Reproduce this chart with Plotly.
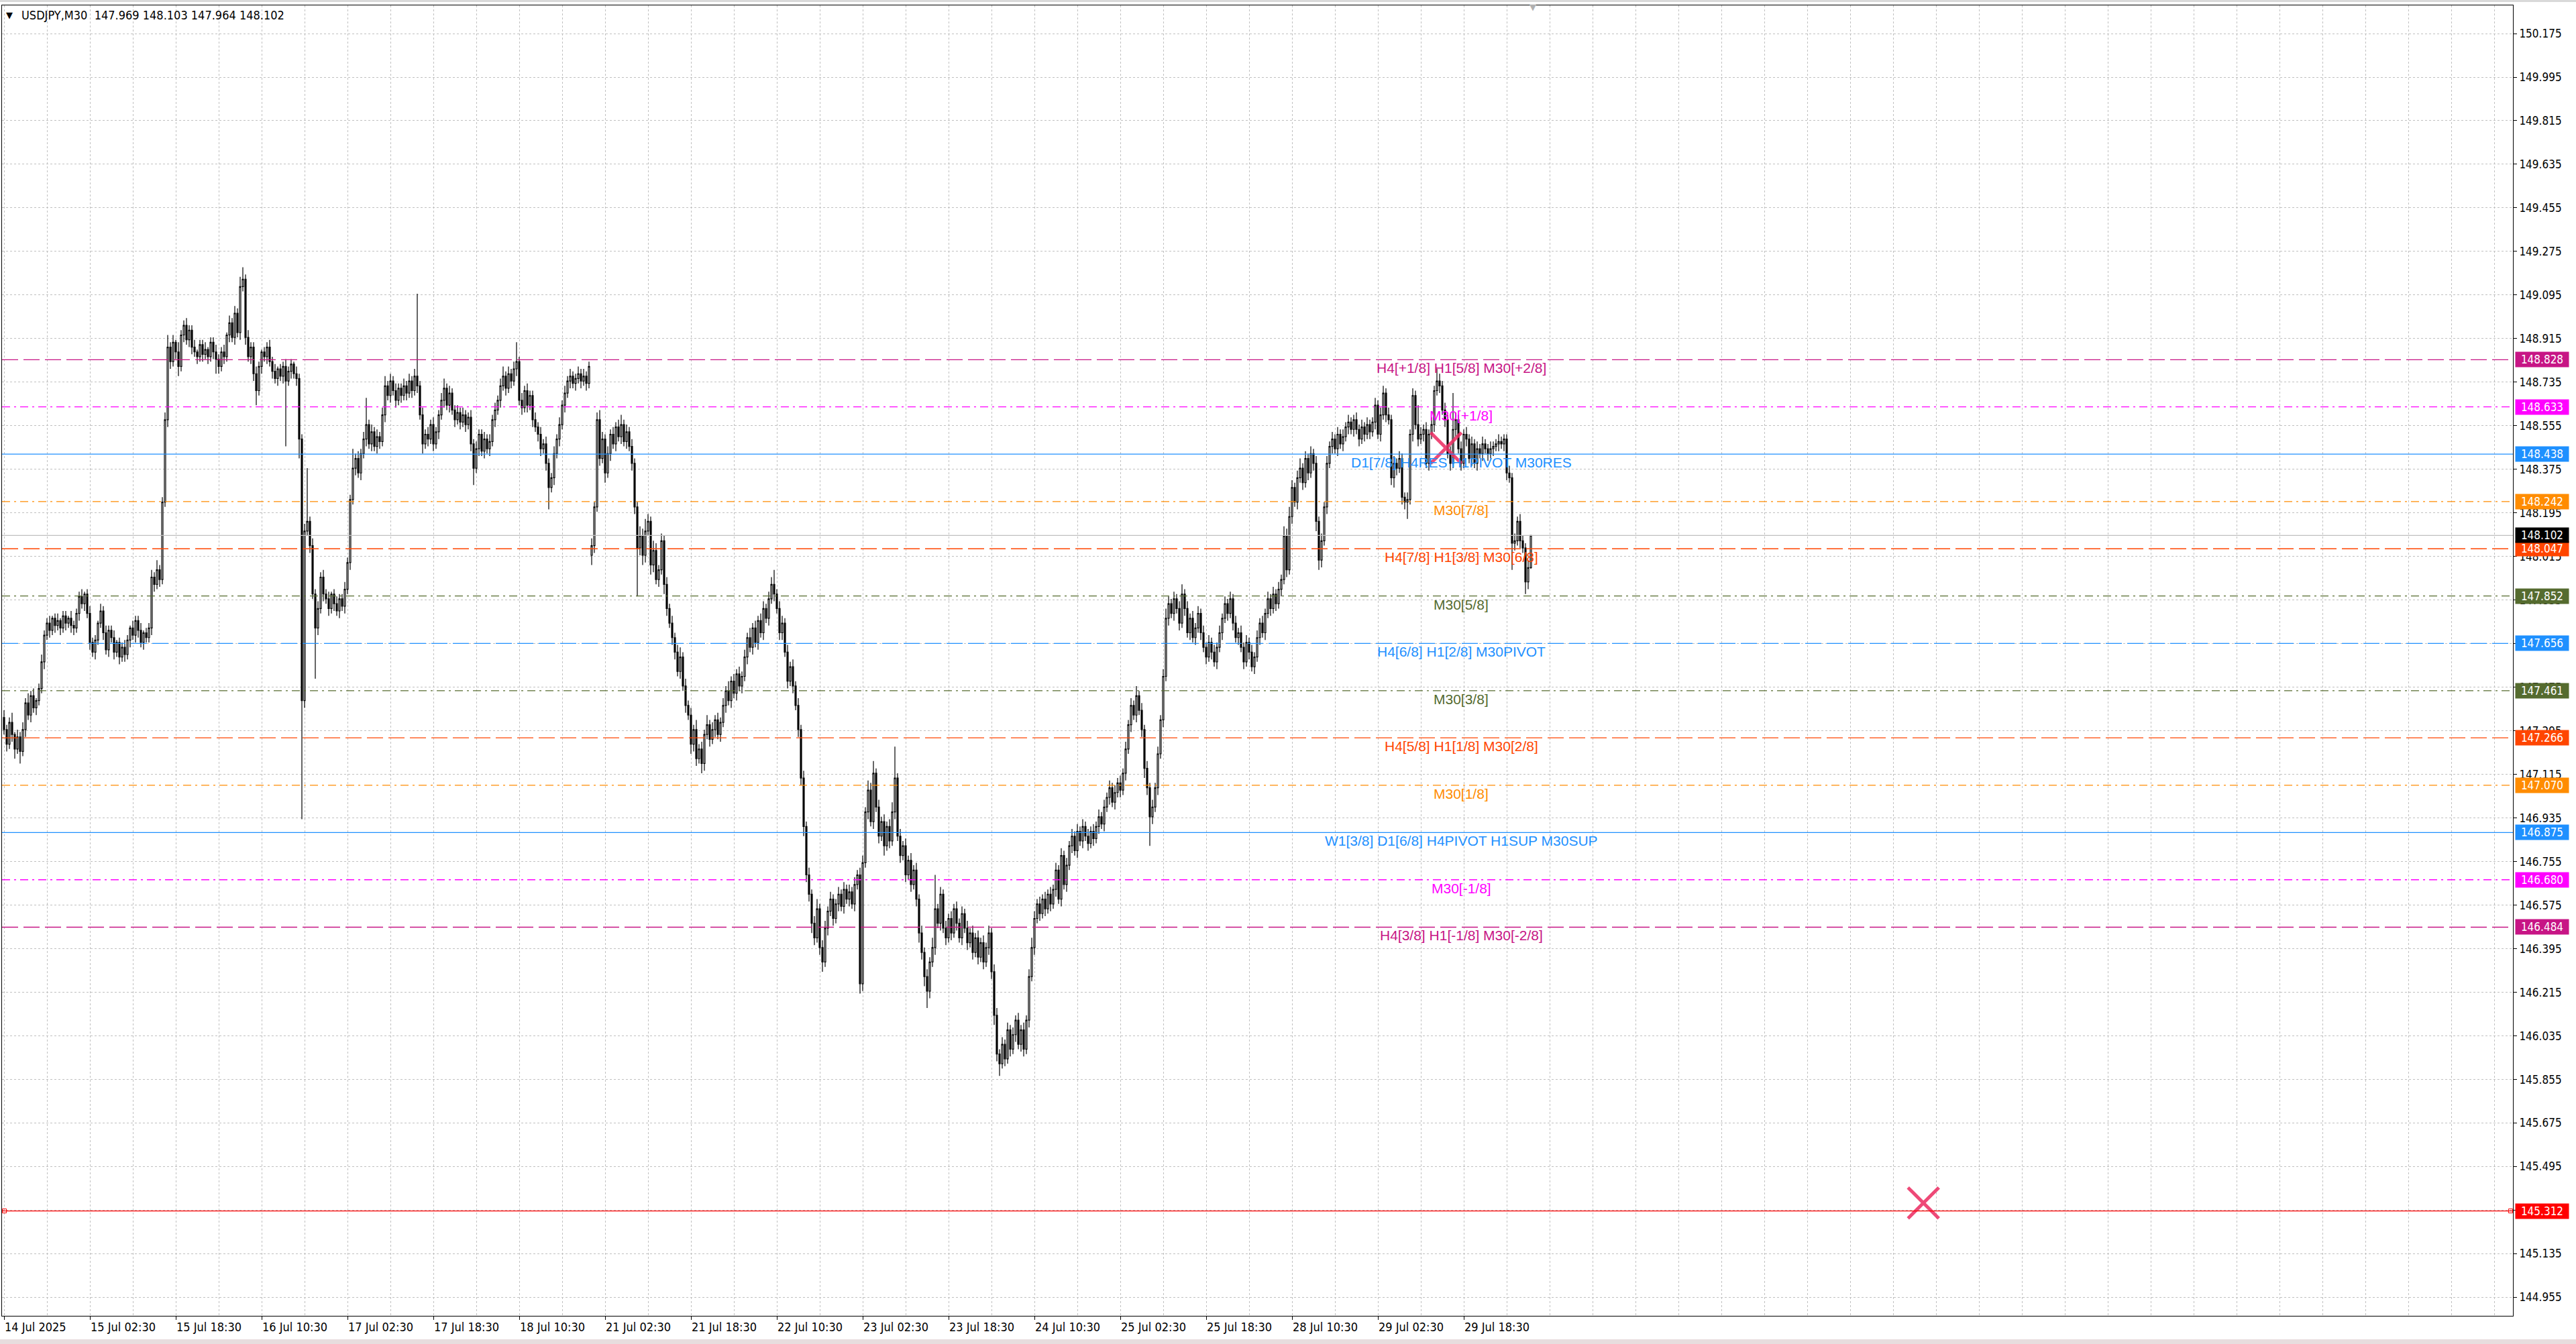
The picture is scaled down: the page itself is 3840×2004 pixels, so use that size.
import plotly.graph_objects as go

# ---------------- DATA ----------------
FIRST_OPEN = 147.35
GAP_OPENS = {219: 148.02}          # Monday open after the weekend gap

CLOSE = [
147.30,147.24,147.33,147.28,147.22,147.27,147.21,147.30,147.41,147.36,
147.44,147.39,147.42,147.47,147.58,147.69,147.74,147.71,147.76,147.73,
147.75,147.72,147.77,147.74,147.76,147.73,147.72,147.78,147.85,147.82,
147.86,147.78,147.66,147.62,147.67,147.74,147.79,147.70,147.63,147.71,
147.68,147.62,147.66,147.60,147.64,147.61,147.67,147.72,147.69,147.75,
147.71,147.66,147.70,147.68,147.72,147.93,147.90,147.96,147.92,148.24,
148.58,148.88,148.82,148.90,148.86,148.80,148.93,148.97,148.91,148.95,
148.88,148.86,148.84,148.89,148.85,148.87,148.84,148.90,148.86,148.83,
148.80,148.86,148.84,148.93,148.98,148.92,149.02,148.94,149.13,149.16,
148.92,148.84,148.88,148.77,148.70,148.80,148.86,148.84,148.88,148.82,
148.78,148.75,148.79,148.76,148.80,148.74,148.78,148.81,148.77,148.75,
148.50,147.42,148.12,148.16,148.06,147.86,147.72,147.80,147.93,147.86,
147.84,147.80,147.86,147.82,147.79,147.84,147.81,147.88,147.99,148.25,
148.38,148.42,148.36,148.44,148.50,148.56,148.48,148.53,148.47,148.51,
148.49,148.60,148.72,148.68,148.74,148.70,148.66,148.71,148.68,148.72,
148.69,148.74,148.70,148.76,148.72,148.60,148.48,148.52,148.50,148.56,
148.48,148.53,148.60,148.66,148.71,148.64,148.69,148.62,148.58,148.61,
148.57,148.60,148.56,148.59,148.48,148.38,148.46,148.52,148.45,148.50,
148.46,148.49,148.58,148.62,148.66,148.72,148.76,148.71,148.77,148.74,
148.79,148.82,148.66,148.63,148.70,148.64,148.68,148.58,148.55,148.52,
148.46,148.48,148.40,148.30,148.34,148.44,148.50,148.56,148.64,148.69,
148.74,148.76,148.73,148.75,148.77,148.74,148.76,148.73,148.80,148.06,
148.22,148.58,148.42,148.50,148.36,148.44,148.52,148.48,148.55,148.51,
148.56,148.49,148.53,148.47,148.40,148.22,148.05,148.10,148.02,148.12,
148.16,147.98,148.04,147.92,147.96,148.08,147.90,147.80,147.74,147.68,
147.62,147.54,147.60,147.48,147.40,147.36,147.24,147.30,147.18,147.22,
147.16,147.28,147.32,147.26,147.30,147.34,147.28,147.33,147.40,147.46,
147.42,147.50,147.45,147.53,147.48,147.52,147.60,147.68,147.64,147.72,
147.66,147.75,147.70,147.80,147.76,147.84,147.90,147.86,147.80,147.70,
147.74,147.62,147.50,147.56,147.48,147.40,147.30,147.10,146.90,146.70,
146.62,146.50,146.44,146.56,146.40,146.34,146.48,146.55,146.60,146.52,
146.58,146.62,146.57,146.64,146.60,146.63,146.58,146.66,146.70,146.25,
146.75,146.96,147.05,146.92,147.12,146.98,146.86,146.92,146.82,146.90,
146.84,146.96,147.10,146.86,146.78,146.82,146.70,146.76,146.66,146.72,
146.60,146.46,146.38,146.28,146.22,146.34,146.40,146.56,146.50,146.62,
146.48,146.44,146.52,146.46,146.56,146.50,146.44,146.54,146.48,146.42,
146.46,146.38,146.44,146.36,146.42,146.34,146.40,146.46,146.30,146.12,
145.96,145.92,146.00,145.94,146.06,145.98,146.04,146.10,146.00,146.06,
145.98,146.10,146.28,146.40,146.52,146.58,146.54,146.60,146.56,146.62,
146.58,146.64,146.72,146.60,146.78,146.66,146.74,146.82,146.86,146.80,
146.88,146.84,146.90,146.86,146.83,146.88,146.85,146.90,146.94,146.91,
146.98,147.02,147.06,147.00,147.04,147.08,147.05,147.12,147.22,147.32,
147.40,147.36,147.44,147.38,147.30,147.14,147.06,146.94,146.98,147.06,
147.20,147.34,147.52,147.76,147.82,147.78,147.84,147.80,147.74,147.86,
147.80,147.70,147.76,147.68,147.72,147.78,147.70,147.64,147.60,147.66,
147.62,147.58,147.64,147.70,147.76,147.82,147.78,147.84,147.74,147.68,
147.70,147.64,147.58,147.66,147.62,147.56,147.60,147.68,147.74,147.70,
147.78,147.84,147.80,147.86,147.82,147.88,147.92,148.10,147.96,148.18,
148.30,148.24,148.34,148.38,148.32,148.42,148.36,148.44,148.40,148.16,
148.00,148.08,148.22,148.40,148.47,148.50,148.46,148.52,148.48,148.51,
148.55,148.57,148.54,148.58,148.54,148.50,148.55,148.52,148.56,148.53,
148.57,148.64,148.52,148.60,148.69,148.60,148.58,148.34,148.40,148.38,
148.42,148.26,148.24,148.25,148.52,148.68,148.56,148.50,148.52,148.54,
148.40,148.52,148.56,148.70,148.74,148.72,148.62,148.58,148.44,148.40,
148.54,148.58,148.46,148.40,148.52,148.50,148.42,148.48,148.40,148.46,
148.44,148.48,148.46,148.44,148.46,148.47,148.48,148.49,148.48,148.50,
148.36,148.34,148.07,148.08,148.16,148.08,148.05,147.91,147.969,148.102,
]

# upper / lower wick lengths in 0.01 JPY
UP_WICK = [
3,2,2,4,1,3,2,3,2,4, 2,3,1,2,3,2,2,3,1,2, 3,1,2,2,1,3,2,2,2,3, 1,2,3,2,2,1,3,2,3,2,
2,3,1,2,2,3,2,1,3,2, 2,3,1,2,2,3,2,4,2,2, 3,5,2,3,1,4,2,2,3,2, 2,3,1,2,2,3,1,2,2,3,
2,2,3,1,3,2,3,2,4,5, 2,3,2,2,3,2,1,2,2,3, 2,3,1,2,2,3,2,2,1,3, 2,2,3,22,2,3,2,3,2,3,
2,3,1,2,3,2,2,3,2,2, 8,2,3,2,3,11,2,3,2,3, 2,3,4,2,3,2,3,2,2,3, 2,3,2,3,34,2,3,2,3,2,
3,2,2,3,4,2,3,2,2,3, 2,3,2,2,3,2,3,2,2,3, 2,3,2,3,2,3,4,2,3,2, 3,8,2,3,2,3,2,2,3,2,
3,2,3,2,2,3,2,3,2,3, 2,3,2,2,3,2,3,2,2,3, 2,3,4,3,2,3,2,3,2,3, 4,2,3,2,3,2,2,4,3,5,
3,2,4,3,2,3,2,3,2,3, 2,3,4,2,3,2,3,2,4,2, 3,2,4,2,3,2,3,2,3,2, 4,2,3,2,3,2,3,2,4,2,
3,2,3,3,2,3,3,6,2,3, 3,2,3,2,3,2,3,2,3,2, 3,2,3,4,2,3,3,2,3,2, 2,3,2,3,2,3,2,3,2,3,
3,2,4,3,5,2,3,2,3,2, 3,4,13,2,3,2,3,2,3,2, 3,2,3,2,3,2,4,14,2,3, 2,3,2,3,2,3,2,3,2,3,
2,3,2,3,2,3,2,3,2,3, 3,2,3,2,3,2,3,2,3,2, 3,2,3,4,3,2,3,2,3,2, 3,2,3,2,3,2,3,2,3,2,
3,2,3,2,3,2,3,2,3,2, 3,2,3,2,3,2,3,2,3,2, 3,2,4,2,3,2,3,2,3,2, 3,2,3,4,3,2,3,2,3,4,
2,3,2,3,2,3,2,3,2,3, 2,3,2,3,2,3,2,3,2,3, 2,3,2,3,2,3,2,3,2,3, 2,3,2,3,2,3,2,4,3,4,
3,2,3,4,2,3,2,3,2,3, 2,3,2,3,2,3,2,3,2,3, 2,3,2,2,3,2,3,2,3,2, 2,3,2,3,3,2,3,2,3,2,
3,2,2,3,2,3,2,8,3,2, 3,2,3,2,5,3,2,3,2,3, 15,3,2,3,2,3,2,3,2,3, 2,3,2,2,3,2,2,3,2,2,
2,3,2,3,2,3,2,2,3,0.1,
]
DN_WICK = [
2,3,2,3,4,2,5,2,3,2, 3,2,3,2,2,3,2,3,2,3, 2,3,2,3,2,3,3,2,3,2, 3,2,3,2,3,2,2,3,2,3,
2,3,2,3,2,3,2,3,2,3, 3,2,3,2,2,3,3,2,3,2, 2,3,3,2,3,4,2,3,2,3, 3,2,3,2,3,2,3,2,3,6,
3,2,3,2,3,2,3,2,3,2, 3,2,3,3,6,2,3,2,3,2, 3,2,3,2,3,27,2,3,2,3, 8,49,3,2,3,2,21,3,2,3,
2,3,2,3,2,3,2,3,2,3, 2,3,2,3,2,3,2,3,2,3, 3,2,3,2,3,2,3,2,3,2, 3,2,3,2,3,2,4,2,3,2,
3,2,3,2,3,2,3,2,3,2, 3,2,3,2,3,7,2,3,2,3, 2,3,2,3,2,3,2,3,2,3, 2,3,2,3,2,3,2,3,2,3,
3,2,3,9,2,3,2,3,2,3, 2,3,2,3,2,3,2,3,2,4, 3,2,3,2,4,2,3,2,3,2, 3,2,3,2,3,3,20,3,4,3,
2,4,3,2,3,2,4,3,2,3, 3,2,3,2,3,2,4,3,3,2, 4,3,2,3,2,3,2,3,2,3, 2,3,2,3,2,3,2,3,2,3,
2,3,2,3,2,3,2,3,2,3, 3,2,3,2,3,2,3,3,4,3, 3,4,3,2,3,4,2,3,2,3, 2,3,2,3,2,3,2,3,2,4,
3,2,3,2,3,2,3,2,4,2, 3,2,3,2,3,2,3,2,3,2, 3,4,3,4,7,3,2,3,2,3, 2,3,2,3,2,3,2,3,2,3,
2,3,2,3,2,3,2,3,3,4, 3,5,2,3,2,3,2,3,2,3, 3,2,3,2,3,2,3,2,3,2, 3,2,3,2,3,2,3,2,3,2,
3,2,3,2,3,2,3,2,3,2, 3,2,3,2,3,2,3,2,3,2, 3,2,3,2,3,4,3,12,3,2, 3,2,3,2,3,2,3,2,3,2,
3,2,3,2,3,2,3,2,3,2, 3,2,3,2,3,2,3,2,3,2, 3,2,3,2,3,2,3,2,3,2, 3,2,3,2,3,2,3,2,3,2,
3,2,3,2,3,2,3,2,3,4, 4,3,2,3,2,3,2,3,2,3, 2,3,2,3,2,3,2,3,2,3, 2,3,2,3,2,3,2,3,4,3,
2,3,3,7,2,3,2,3,2,3, 2,3,2,3,2,3,2,3,2,3, 2,3,2,3,2,3,2,3,2,3, 2,3,2,3,2,3,2,3,2,3,
3,2,11,3,2,3,2,5,3,0.5,
]

TICK_BARS = [0, 32, 64, 96, 128, 160, 192, 224, 256, 288, 320, 352, 384, 416, 448, 480, 512, 544]
TICK_LABELS = ["14 Jul 2025", "15 Jul 02:30", "15 Jul 18:30", "16 Jul 10:30", "17 Jul 02:30",
               "17 Jul 18:30", "18 Jul 10:30", "21 Jul 02:30", "21 Jul 18:30", "22 Jul 10:30",
               "23 Jul 02:30", "23 Jul 18:30", "24 Jul 10:30", "25 Jul 02:30", "25 Jul 18:30",
               "28 Jul 10:30", "29 Jul 02:30", "29 Jul 18:30"]

PRICE_TICKS = ["150.175", "149.995", "149.815", "149.635", "149.455", "149.275", "149.095",
               "148.915", "148.735", "148.555", "148.375", "148.195", "148.015", "147.835",
               "147.655", "147.475", "147.295", "147.115", "146.935", "146.755", "146.575",
               "146.395", "146.215", "146.035", "145.855", "145.675", "145.495", "145.315",
               "145.135", "144.955"]

LEVEL_PRICES = [148.828, 148.633, 148.438, 148.242, 148.047, 147.852, 147.656,
                147.461, 147.266, 147.070, 146.875, 146.680, 146.484]
LEVEL_TEXT = ["H4[+1/8] H1[5/8] M30[+2/8]", "M30[+1/8]", "D1[7/8] H4RES H1PIVOT M30RES",
              "M30[7/8]", "H4[7/8] H1[3/8] M30[6/8]", "M30[5/8]", "H4[6/8] H1[2/8] M30PIVOT",
              "M30[3/8]", "H4[5/8] H1[1/8] M30[2/8]", "M30[1/8]",
              "W1[3/8] D1[6/8] H4PIVOT H1SUP M30SUP", "M30[-1/8]", "H4[3/8] H1[-1/8] M30[-2/8]"]
LEVEL_COLORS = ["#C71585", "#FF00FF", "#1E90FF", "#FF8C00", "#FF4500", "#556B2F", "#1E90FF",
                "#556B2F", "#FF4500", "#FF8C00", "#1E90FF", "#FF00FF", "#C71585"]
LEVEL_STYLES = ["dash", "dashdot", "solid", "dashdot", "dash", "dashdot", "dash",
                "dashdot", "dash", "dashdot", "solid", "dashdot", "dash"]

BID_PRICE = 148.102
TARGET_PRICE = 145.312
X_MARKS_BAR = [715.3, 537.4]
X_MARKS_PRICE = [145.345, 148.463]

HEADER = "USDJPY,M30  147.969 148.103 147.964 148.102"

# ---------------- BUILD ----------------
n = len(CLOSE)
assert len(UP_WICK) == n and len(DN_WICK) == n, (n, len(UP_WICK), len(DN_WICK))
OPEN = [FIRST_OPEN] + CLOSE[:-1]
for k, v in GAP_OPENS.items():
    OPEN[k] = v
HIGH = [max(o, c) + u / 100 for o, c, u in zip(OPEN, CLOSE, UP_WICK)]
LOW = [min(o, c) - d / 100 for o, c, d in zip(OPEN, CLOSE, DN_WICK)]
X = list(range(n))

W, H = 3840, 2004
PL, PR, PT, PB = 3, 3746, 8, 1962
BAR_PX = 4.0
X0 = -0.75
X1 = X0 + (PR - PL) / BAR_PX
PX_PER_YEN = 361.0
Y_REF_PRICE, Y_REF_PX = 148.828, 536.3
YTOP = Y_REF_PRICE + (Y_REF_PX - PT) / PX_PER_YEN
YBOT = Y_REF_PRICE - (PB - Y_REF_PX) / PX_PER_YEN


def px_x(p):
    return (p - PL) / (PR - PL)


def px_y(p):
    return (PB - p) / (PB - PT)


FAM = "DejaVu Sans Condensed, DejaVu Sans"
AXFONT = dict(family=FAM, size=17, color="black")
XFONT = dict(family=FAM, size=18, color="black")
DASHES = {"dash": "24px,8px", "dashdot": "12px,6px,3px,6px", "solid": "solid"}

fig = go.Figure()
fig.add_trace(go.Candlestick(
    x=X, open=OPEN, high=HIGH, low=LOW, close=CLOSE,
    increasing=dict(line=dict(color="black", width=1.2), fillcolor="white"),
    decreasing=dict(line=dict(color="black", width=1.2), fillcolor="black"),
    whiskerwidth=0, hoverinfo="skip", showlegend=False))

shapes = []
annotations = []
for p, t, c, s in zip(LEVEL_PRICES, LEVEL_TEXT, LEVEL_COLORS, LEVEL_STYLES):
    shapes.append(dict(type="line", xref="paper", x0=0, x1=1, yref="y", y0=p, y1=p,
                       line=dict(color=c, width=1.3, dash=DASHES[s]), layer="above"))
    annotations.append(dict(x=543, y=p, xref="x", yref="y", text=t, showarrow=False,
                            xanchor="center", yanchor="top", yshift=1,
                            font=dict(family="Liberation Sans, Arial", size=21, color=c)))
    annotations.append(dict(x=1, y=p, xref="paper", yref="y", text=f"{p:.3f}", showarrow=False,
                            xanchor="left", yanchor="middle", xshift=3, width=77, height=20,
                            borderpad=1, bgcolor=c,
                            font=dict(family=FAM, size=17, color="white")))

# bid line
shapes.append(dict(type="line", xref="paper", x0=0, x1=1, yref="y", y0=BID_PRICE, y1=BID_PRICE,
                   line=dict(color="#C0C0C0", width=1.2), layer="above"))
annotations.append(dict(x=1, y=BID_PRICE, xref="paper", yref="y", text=f"{BID_PRICE:.3f}",
                        showarrow=False, xanchor="left", yanchor="middle", xshift=3, width=77,
                        height=20, borderpad=1, bgcolor="black",
                        font=dict(family=FAM, size=17, color="white")))
# target line
shapes.append(dict(type="line", xref="paper", x0=0, x1=1, yref="y", y0=TARGET_PRICE, y1=TARGET_PRICE,
                   line=dict(color="#FF0000", width=1.2), layer="above"))
annotations.append(dict(x=1, y=TARGET_PRICE, xref="paper", yref="y", text=f"{TARGET_PRICE:.3f}",
                        showarrow=False, xanchor="left", yanchor="middle", xshift=3, width=77,
                        height=20, borderpad=1, bgcolor="#FF0000",
                        font=dict(family=FAM, size=17, color="white")))
fig.add_trace(go.Scatter(x=[X0 + 0.9, X1 - 0.9], y=[TARGET_PRICE, TARGET_PRICE], mode="markers",
                         cliponaxis=False,
                         marker=dict(symbol="square-open", size=6, color="#FF0000",
                                     line=dict(width=1, color="#FF0000")),
                         hoverinfo="skip", showlegend=False))
# X marks
fig.add_trace(go.Scatter(x=X_MARKS_BAR, y=X_MARKS_PRICE, mode="markers",
                         marker=dict(symbol="x-thin", size=46,
                                     line=dict(width=5, color="rgba(236,48,100,0.88)")),
                         hoverinfo="skip", showlegend=False))

# header
annotations.append(dict(x=px_x(14), y=px_y(23), xref="paper", yref="paper", text="▼",
                        showarrow=False, xanchor="center", yanchor="middle",
                        font=dict(family="DejaVu Sans", size=13, color="black")))
annotations.append(dict(x=px_x(30), y=px_y(23), xref="paper", yref="paper", text=HEADER,
                        showarrow=False, xanchor="left", yanchor="middle",
                        font=dict(family=FAM, size=18, color="black")))
# chart-shift marker
annotations.append(dict(x=569.75, y=px_y(11), xref="x", yref="paper", text="▼",
                        showarrow=False, xanchor="center", yanchor="middle",
                        font=dict(family="DejaVu Sans", size=13, color="#B0B0B0")))

# window chrome strips
shapes.append(dict(type="rect", xref="paper", yref="paper", x0=px_x(0), x1=px_x(W),
                   y0=px_y(3), y1=px_y(0), fillcolor="#D9D9D9", line=dict(width=0), layer="below"))
shapes.append(dict(type="rect", xref="paper", yref="paper", x0=px_x(0), x1=px_x(W),
                   y0=px_y(2004), y1=px_y(1997), fillcolor="#E8DDDE", line=dict(width=0), layer="below"))

GRID = dict(gridcolor="#C0C0C0", gridwidth=1, griddash="3px,3px")

fig.update_layout(
    width=W, height=H,
    margin=dict(l=PL, r=W - PR, t=PT, b=H - PB, pad=0),
    paper_bgcolor="white", plot_bgcolor="white",
    shapes=shapes, annotations=annotations,
    showlegend=False,
    xaxis=dict(range=[X0, X1], rangeslider=dict(visible=False), tickmode="array",
               tickvals=TICK_BARS, ticktext=TICK_LABELS, ticks="outside", ticklen=5,
               tickcolor="black", tickfont=XFONT, ticklabelposition="outside right",
               showgrid=True, **GRID, zeroline=False,
               showline=True, mirror=True, linecolor="black", linewidth=1,
               minor=dict(tickmode="linear", tick0=0, dtick=16, showgrid=True, ticks="",
                          **GRID),
               fixedrange=True),
    yaxis=dict(range=[YBOT, YTOP], side="right", tickmode="array",
               tickvals=[float(v) for v in PRICE_TICKS], ticktext=PRICE_TICKS,
               ticks="outside", ticklen=5, tickcolor="black", tickfont=AXFONT,
               showgrid=True, **GRID, zeroline=False,
               showline=True, mirror=True, linecolor="black", linewidth=1,
               fixedrange=True),
)

fig.write_html("out.html", config={"displayModeBar": False},
               post_script="document.body.style.margin='0';document.body.style.overflow='hidden';")
